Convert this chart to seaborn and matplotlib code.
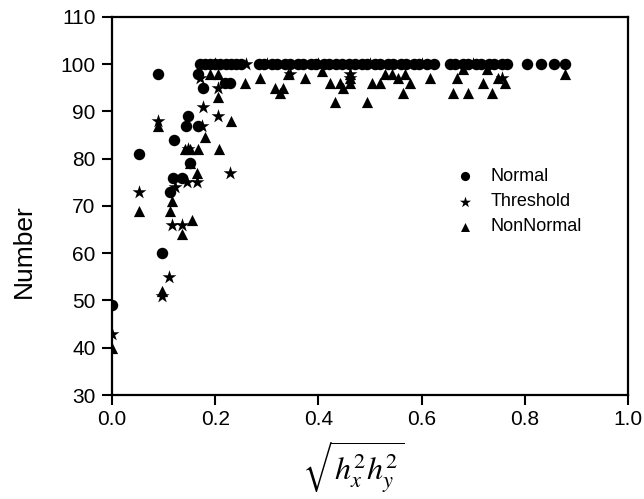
import matplotlib
matplotlib.use('Agg')
import matplotlib.pyplot as plt
import seaborn as sns
import numpy as np

# Normal (circles)
normal_x = [0.0, 0.052, 0.09, 0.097, 0.112, 0.118, 0.136, 0.151, 0.12, 0.143, 0.147, 0.167,
            0.176, 0.167, 0.219, 0.229,
            0.17, 0.18, 0.19, 0.20, 0.21, 0.22, 0.23, 0.24, 0.25,
            0.285, 0.295, 0.31, 0.32, 0.335, 0.345, 0.36, 0.37, 0.385, 0.395, 0.41, 0.42,
            0.435, 0.445, 0.46, 0.47, 0.485, 0.495, 0.51, 0.52, 0.535, 0.545, 0.56, 0.57,
            0.585, 0.595, 0.61, 0.625,
            0.655, 0.665, 0.68, 0.69, 0.705, 0.715, 0.73, 0.74, 0.755, 0.765,
            0.804, 0.831, 0.857, 0.878]
normal_y = [49, 81, 98, 60, 73, 76, 76, 79, 84, 87, 89, 87,
            95, 98, 96, 96,
            100, 100, 100, 100, 100, 100, 100, 100, 100,
            100, 100, 100, 100, 100, 100, 100, 100, 100, 100, 100, 100,
            100, 100, 100, 100, 100, 100, 100, 100, 100, 100, 100, 100,
            100, 100, 100, 100,
            100, 100, 100, 100, 100, 100, 100, 100, 100, 100,
            100, 100, 100, 100]

# Threshold (stars)
thresh_x = [0.0, 0.052, 0.09, 0.097, 0.11, 0.116, 0.136, 0.122, 0.145, 0.165, 0.147,
            0.174, 0.176, 0.205, 0.205, 0.229, 0.17, 0.461, 0.461, 0.345, 0.755,
            0.2, 0.26, 0.3, 0.4, 0.5, 0.6, 0.7]
thresh_y = [43, 73, 88, 51, 55, 66, 66, 74, 75, 75, 82,
            87, 91, 89, 95, 77, 97, 98, 97, 98, 97,
            100, 100, 100, 100, 100, 100, 100]

# NonNormal (triangles)
nonnorm_x = [0.0, 0.052, 0.09, 0.097, 0.112, 0.116, 0.136, 0.155, 0.165, 0.151, 0.141,
             0.151, 0.167, 0.18, 0.207,
             0.19, 0.205, 0.205, 0.23, 0.258, 0.287, 0.316, 0.331, 0.325, 0.341, 0.374,
             0.407, 0.422, 0.442, 0.448, 0.432, 0.461, 0.461, 0.461, 0.494, 0.504, 0.519,
             0.529, 0.543, 0.554, 0.568, 0.577, 0.564, 0.616, 0.668, 0.661, 0.69, 0.68,
             0.719, 0.736, 0.727, 0.748, 0.762, 0.878]
nonnorm_y = [40, 69, 87, 52, 69, 71, 64, 67, 77, 79, 82,
             82, 82, 84.5, 82,
             98, 98, 93, 88, 96, 97, 95, 95, 94, 98, 97,
             98.5, 96, 96, 95, 92, 98, 97, 96, 92, 96, 96,
             98, 98, 97, 98, 96, 94, 97, 97, 94, 94, 99,
             96, 94, 99, 97, 96, 98]

sns.set_style('ticks')
plt.rcParams['font.family'] = ['Liberation Sans', 'DejaVu Sans']
plt.rcParams['mathtext.fontset'] = 'stix'
plt.rcParams['text.color'] = 'black'
plt.rcParams['axes.labelcolor'] = 'black'
plt.rcParams['xtick.color'] = 'black'
plt.rcParams['ytick.color'] = 'black'
plt.rcParams['axes.edgecolor'] = 'black'

fig = plt.figure(figsize=(6.44, 4.99), dpi=100)
ax = fig.add_axes([0.174, 0.2084, 0.801, 0.7576])

sns.scatterplot(x=thresh_x, y=thresh_y, marker='*', s=110, color='black',
                edgecolor='black', linewidth=0, label='Threshold', ax=ax, zorder=2)
sns.scatterplot(x=nonnorm_x, y=nonnorm_y, marker='^', s=65, color='black',
                edgecolor='black', linewidth=0, label='NonNormal', ax=ax, zorder=3)
sns.scatterplot(x=normal_x, y=normal_y, marker='o', s=68, color='black',
                edgecolor='black', linewidth=0, label='Normal', ax=ax, zorder=4)

ax.set_xlim(0, 1.0)
ax.set_ylim(30, 110)
ax.set_xticks(np.arange(0, 1.01, 0.2))
ax.set_yticks(range(30, 111, 10))
ax.set_xticklabels(['0.0', '0.2', '0.4', '0.6', '0.8', '1.0'])
ax.tick_params(axis='y', pad=5)
ax.tick_params(direction='out', length=7, width=1.5, labelsize=15)
for sp in ax.spines.values():
    sp.set_linewidth(1.6)
    sp.set_visible(True)

ax.set_ylabel('Number', fontsize=19)
ax.yaxis.set_label_coords(-0.148, 0.38)
ax.set_xlabel(r'$\sqrt{h_x^2 h_y^2}$', fontsize=23)
ax.xaxis.set_label_coords(0.467, -0.12)

handles, labels = ax.get_legend_handles_labels()
order = [labels.index('Normal'), labels.index('Threshold'), labels.index('NonNormal')]
ax.legend([handles[i] for i in order], [labels[i] for i in order],
          loc='upper left', bbox_to_anchor=(0.626, 0.643), frameon=False,
          fontsize=13, handlelength=1.5, handletextpad=0.7, labelspacing=0.45,
          markerscale=0.8)

fig.savefig('out.png', dpi=100)
